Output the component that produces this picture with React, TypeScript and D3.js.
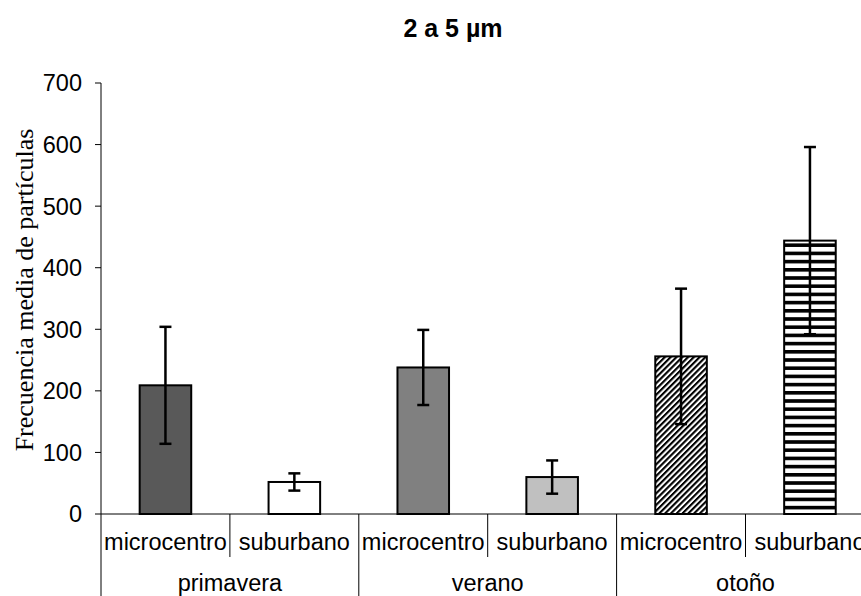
import React from "react";
import * as d3 from "d3";

const seasons = ["primavera", "verano", "otoño"];
const sites = ["microcentro", "suburbano"];
const means = [209, 52, 238, 60, 256, 444];
const errors = [95, 14, 61, 27, 110, 152];
const yTicks = [0, 100, 200, 300, 400, 500, 600, 700];
const title = "2 a 5 µm";
const yTitle = "Frecuencia media de partículas";

const W = 861;
const H = 596;
const left = 101;
const slot = 128.9;
const top = 83;
const bottom = 514;

const fills = ["#595959", "#ffffff", "#808080", "#c0c0c0", "url(#diag)", "url(#hstripe)"];

export default function App() {
  const y = d3.scaleLinear().domain([0, 700]).range([bottom, top]);
  const labels = seasons.flatMap((s) => sites.map((c) => ({ season: s, site: c })));
  const x = d3
    .scaleBand<number>()
    .domain(d3.range(labels.length))
    .range([left, left + slot * labels.length])
    .paddingInner(0)
    .paddingOuter(0);
  const bw = x.bandwidth() * 0.4;
  const sans = "Arial, 'Liberation Sans', sans-serif";

  return (
    <svg
      width={W}
      height={H}
      style={{ position: "absolute", left: 0, top: 0, background: "#fff" }}
    >
      <defs>
        <pattern id="diag" patternUnits="userSpaceOnUse" width={4.1} height={4.1} patternTransform="rotate(45)">
          <rect width={4.1} height={4.1} fill="#fff" />
          <rect x={0} y={0} width={2.1} height={4.1} fill="#000" />
        </pattern>
        <pattern id="hstripe" patternUnits="userSpaceOnUse" width={10} height={8.2} y={bottom}>
          <rect width={10} height={8.2} fill="#fff" />
          <rect x={0} y={0} width={10} height={3.6} fill="#000" />
        </pattern>
      </defs>

      <text x={453} y={37} textAnchor="middle" fontFamily={sans} fontWeight="bold" fontSize={25}>
        {title}
      </text>

      <text
        transform={`translate(33, 290) rotate(-90)`}
        textAnchor="middle"
        fontFamily="'Times New Roman', 'Liberation Serif', serif"
        fontSize={26}
      >
        {yTitle}
      </text>

      {/* y axis */}
      <line x1={left} x2={left} y1={top} y2={H} stroke="#000" strokeWidth={1} />
      {yTicks.map((t) => (
        <g key={t}>
          <line x1={left - 6} x2={left} y1={y(t)} y2={y(t)} stroke="#000" strokeWidth={1} />
          <text x={82} y={y(t)} dy="0.36em" textAnchor="end" fontFamily={sans} fontSize={23.5}>
            {t}
          </text>
        </g>
      ))}

      {/* bars */}
      {means.map((m, i) => {
        const cx = (x(i) as number) + x.bandwidth() / 2;
        return (
          <rect
            key={i}
            x={cx - bw / 2}
            y={y(m)}
            width={bw}
            height={y(0) - y(m)}
            fill={fills[i]}
            stroke="#000"
            strokeWidth={2}
          />
        );
      })}

      {/* error bars */}
      {means.map((m, i) => {
        const cx = (x(i) as number) + x.bandwidth() / 2;
        const hi = y(m + errors[i]);
        const lo = y(m - errors[i]);
        return (
          <g key={i} stroke="#000" strokeWidth={2.5}>
            <line x1={cx} x2={cx} y1={hi} y2={lo} />
            <line x1={cx - 6} x2={cx + 6} y1={hi} y2={hi} />
            <line x1={cx - 6} x2={cx + 6} y1={lo} y2={lo} />
          </g>
        );
      })}

      {/* x axis */}
      <line x1={left} x2={W} y1={bottom} y2={bottom} stroke="#000" strokeWidth={1} />
      {labels.map((l, i) => {
        const x0 = x(i) as number;
        const isGroupStart = i % 2 === 0;
        return (
          <g key={i}>
            {i > 0 && (
              <line
                x1={x0}
                x2={x0}
                y1={bottom}
                y2={isGroupStart ? H : 557}
                stroke="#000"
                strokeWidth={1}
              />
            )}
            <text
              x={x0 + x.bandwidth() / 2}
              y={550}
              textAnchor="middle"
              fontFamily={sans}
              fontSize={23.5}
            >
              {l.site}
            </text>
          </g>
        );
      })}
      {seasons.map((s, g) => (
        <text
          key={s}
          x={(x(g * 2) as number) + x.bandwidth()}
          y={591}
          textAnchor="middle"
          fontFamily={sans}
          fontSize={23.5}
        >
          {s}
        </text>
      ))}
    </svg>
  );
}
